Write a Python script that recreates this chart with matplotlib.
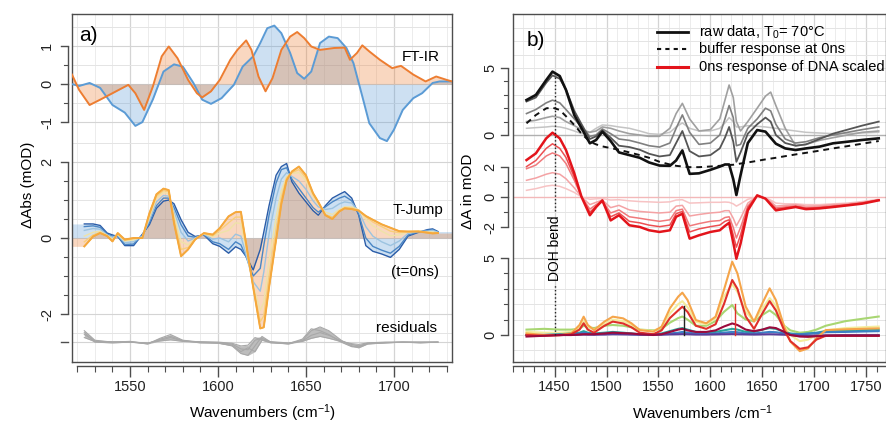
import numpy as np
import matplotlib
matplotlib.use('Agg')
import matplotlib.pyplot as plt

plt.rcParams['font.family'] = ['Liberation Sans', 'DejaVu Sans']
plt.rcParams['mathtext.fontset'] = 'custom'
plt.rcParams['mathtext.rm'] = 'Liberation Sans'
plt.rcParams['mathtext.it'] = 'Liberation Sans:italic'

# ---------------- Panel a data ----------------
FTIR_WN_B = [1517, 1521, 1527, 1533, 1540, 1547, 1553, 1557, 1563, 1569,
             1575, 1580, 1586, 1591, 1596, 1602, 1609, 1614, 1620, 1624,
             1628, 1632, 1636, 1641, 1645, 1649, 1653, 1658, 1663, 1668,
             1673, 1677, 1682, 1686, 1692, 1696, 1700, 1705, 1711, 1716,
             1722, 1726, 1733]
FTIR_BLUE = [0.0, -0.05, 0.03, -0.1, -0.55, -0.75, -1.1, -1.0, -0.4, 0.33,
             0.52, 0.46, 0.03, -0.41, -0.52, -0.37, -0.02, 0.46, 0.73, 1.08,
             1.47, 1.54, 1.34, 0.82, 0.29, 0.14, 0.33, 1.08, 1.25, 1.21,
             0.95, 0.55, -0.32, -1.03, -1.42, -1.5, -1.2, -0.68, -0.37, -0.24,
             0.03, 0.07, 0.07]
FTIR_WN_O = [1517, 1521, 1527, 1533, 1540, 1549, 1553, 1558, 1563, 1568,
             1572, 1577, 1583, 1588, 1591, 1596, 1601, 1607, 1611, 1616,
             1619, 1623, 1627, 1631, 1636, 1641, 1645, 1649, 1653, 1658,
             1666, 1672, 1675, 1679, 1682, 1686, 1692, 1699, 1704, 1711,
             1718, 1724, 1730, 1733]
FTIR_ORANGE = [0.25, -0.15, -0.55, -0.41, -0.24, -0.02, -0.24, -0.68, -0.06, 0.73,
               0.99, 0.68, 0.11, -0.24, -0.35, -0.19, 0.11, 0.64, 0.9, 1.15,
               0.9, 0.2, -0.19, 0.16, 0.9, 1.25, 1.37, 1.21, 0.99, 0.9,
               0.95, 0.96, 0.64, 0.82, 1.02, 0.86, 0.64, 0.42, 0.48, 0.25,
               0.07, 0.2, 0.11, 0.07]

TJ_WN = [1524, 1529, 1533, 1537, 1540, 1543, 1547, 1552, 1557, 1561,
         1565, 1569, 1572, 1575, 1579, 1583, 1587, 1592, 1597, 1601,
         1606, 1610, 1613, 1616, 1620, 1624, 1626, 1629, 1633, 1636,
         1639, 1642, 1646, 1650, 1654, 1657, 1661, 1665, 1669, 1672,
         1676, 1680, 1684, 1688, 1693, 1698, 1703, 1708, 1714, 1719,
         1722, 1725]
TJ1 = [0.37, 0.37, 0.33, 0.13, 0.08, 0.04, -0.2, -0.2, 0.1, 0.35,
       0.78, 0.97, 1.0, 0.9, 0.48, 0.15, 0.04, 0.08, -0.15, -0.22,
       -0.4, -0.23, -0.3, -0.49, -0.84, -0.3, 0.15, 0.85, 1.65, 1.88,
       1.96, 1.48, 1.18, 0.95, 0.72, 0.6, 0.85, 1.05, 1.15, 1.22,
       1.05, 0.6, -0.2, -0.35, -0.42, -0.51, -0.3, 0.05, 0.15, 0.22,
       0.24, 0.17]
TJ2 = [0.3, 0.32, 0.28, 0.1, 0.05, 0.05, -0.17, -0.16, 0.08, 0.4,
       0.85, 1.05, 1.05, 0.8, 0.35, 0.05, 0.02, 0.09, -0.1, -0.15,
       -0.3, -0.1, -0.18, -0.5, -1.0, -0.8, -0.2, 0.6, 1.45, 1.8,
       1.85, 1.55, 1.3, 1.05, 0.8, 0.68, 0.82, 0.95, 1.05, 1.1,
       0.98, 0.62, 0.0, -0.22, -0.32, -0.4, -0.22, 0.08, 0.16, 0.2,
       0.22, 0.16]
TJ3 = [0.2, 0.25, 0.23, 0.08, 0.02, 0.07, -0.12, -0.1, 0.05, 0.48,
       0.95, 1.12, 1.1, 0.7, 0.15, -0.08, 0.0, 0.1, -0.03, 0.0,
       -0.1, 0.1, 0.05, -0.45, -1.15, -1.4, -0.9, 0.1, 1.05, 1.55,
       1.72, 1.62, 1.5, 1.28, 0.98, 0.82, 0.75, 0.78, 0.9, 0.95,
       0.92, 0.7, 0.3, 0.05, -0.1, -0.2, -0.08, 0.12, 0.17, 0.18,
       0.2, 0.15]
TJ4 = [0.05, 0.15, 0.18, 0.07, -0.03, 0.09, -0.08, -0.05, 0.03, 0.55,
       1.05, 1.2, 1.17, 0.6, -0.1, -0.18, -0.02, 0.11, 0.03, 0.13,
       0.2, 0.4, 0.38, -0.3, -1.25, -1.9, -1.7, -0.6, 0.55, 1.25,
       1.62, 1.7, 1.72, 1.5, 1.1, 0.9, 0.68, 0.62, 0.75, 0.82,
       0.82, 0.74, 0.5, 0.32, 0.18, 0.06, 0.08, 0.16, 0.18, 0.16,
       0.16, 0.14]
TJ5 = [-0.1, 0.08, 0.15, 0.06, -0.06, 0.11, -0.06, -0.02, 0.01, 0.6,
       1.1, 1.25, 1.22, 0.5, -0.3, -0.25, -0.03, 0.12, 0.06, 0.2,
       0.4, 0.55, 0.55, -0.2, -1.28, -2.2, -2.05, -1.0, 0.25, 1.08,
       1.58, 1.72, 1.8, 1.58, 1.15, 0.92, 0.62, 0.55, 0.72, 0.8,
       0.79, 0.73, 0.56, 0.42, 0.3, 0.18, 0.14, 0.17, 0.18, 0.15,
       0.14, 0.13]
TJ6 = [-0.22, 0.04, 0.13, 0.05, -0.09, 0.13, -0.04, 0.0, 0.0, 0.65,
       1.15, 1.3, 1.26, 0.39, -0.48, -0.3, -0.04, 0.13, 0.09, 0.26,
       0.57, 0.68, 0.69, -0.15, -1.3, -2.38, -2.35, -1.3, -0.05, 0.9,
       1.52, 1.75, 1.88, 1.65, 1.18, 0.95, 0.6, 0.5, 0.7, 0.78,
       0.76, 0.72, 0.58, 0.48, 0.36, 0.27, 0.18, 0.17, 0.17, 0.14,
       0.12, 0.13]
TJ_SERIES = [TJ1, TJ2, TJ3, TJ4, TJ5, TJ6]
TJ_COLORS = ['#2a5ca8', '#4a86c5', '#9cc3e0', '#efe3a8', '#f9cf7a', '#f5a83c']

RES_WN = [1524, 1530, 1540, 1550, 1560, 1567, 1573, 1580, 1590, 1600,
          1608, 1613, 1617, 1621, 1625, 1630, 1640, 1648, 1653, 1658,
          1663, 1670, 1676, 1680, 1685, 1695, 1705, 1715, 1725]
RES1 = [0.3, 0.05, 0.0, 0.02, -0.05, 0.1, 0.2, 0.05, 0.0, -0.02,
        -0.1, -0.3, -0.35, -0.1, 0.15, 0.0, -0.05, 0.05, 0.3, 0.4,
        0.3, 0.05, -0.1, -0.15, -0.05, -0.02, 0.0, -0.01, 0.0]
RES2 = [0.2, 0.03, 0.0, 0.01, -0.03, 0.05, 0.12, 0.03, 0.0, -0.01,
        -0.05, -0.18, -0.2, 0.05, 0.1, 0.0, -0.03, 0.03, 0.18, 0.25,
        0.18, 0.03, -0.06, -0.1, -0.03, -0.01, 0.0, 0.0, 0.0]
RES3 = [0.25, 0.0, -0.02, 0.0, -0.04, 0.08, 0.15, 0.04, -0.02, -0.03,
        -0.08, -0.25, -0.15, -0.25, 0.05, -0.02, -0.04, 0.08, 0.35, 0.3,
        0.2, 0.0, -0.12, -0.12, -0.04, -0.02, 0.0, -0.02, 0.0]
RES4 = [0.12, 0.02, 0.01, 0.0, -0.02, 0.03, 0.06, 0.02, 0.01, 0.0,
        -0.03, -0.1, -0.08, 0.12, 0.06, 0.01, -0.02, 0.02, 0.1, 0.15,
        0.1, 0.02, -0.04, -0.06, -0.02, 0.0, 0.0, 0.0, 0.0]

# ---------------- Panel b data ----------------
WB = [1423, 1432, 1442, 1448, 1455, 1461, 1469, 1476, 1484, 1490,
      1496, 1504, 1512, 1522, 1532, 1541, 1551, 1561, 1567, 1573,
      1580, 1589, 1600, 1609, 1614, 1618, 1622, 1625, 1629, 1636,
      1645, 1653, 1658, 1663, 1672, 1682, 1692, 1705, 1718, 1732,
      1746, 1762]
RAW_BLACK = [2.61, 2.99, 4.1, 4.73, 4.4, 3.36, 1.49, 0.5, -0.62, -0.37,
             0.25, -0.45, -1.3, -1.5, -1.7, -2.05, -2.28, -2.3, -1.9, -1.15,
             -2.9, -2.86, -2.6, -2.36, -2.2, -2.2, -3.3, -4.48, -3.0, -0.6,
             0.37, 0.25, -0.2, -0.65, -1.0, -1.12, -1.0, -0.87, -0.62, -0.5,
             -0.37, -0.25]
BUFFER = [0.87, 1.49, 1.99, 2.04, 1.87, 1.4, 0.75, 0.1, -0.5, -0.7,
          -0.85, -0.98, -1.1, -1.3, -1.5, -1.7, -2.0, -2.2, -2.3, -2.35,
          -2.4, -2.4, -2.35, -2.3, -2.27, -2.24, -2.22, -2.18, -2.13, -2.05,
          -1.93, -1.82, -1.76, -1.7, -1.58, -1.45, -1.33, -1.17, -1.0, -0.83,
          -0.65, -0.45]
RAW_G1 = [2.5, 2.8, 3.9, 4.45, 4.2, 3.4, 1.8, 0.8, -0.3, -0.1,
          0.35, -0.2, -0.8, -0.9, -1.1, -1.4, -1.6, -1.5, -0.6, 0.3,
          -1.2, -1.6, -1.5, -1.0, -0.2, 0.6, -0.5, -2.0, -1.3, 0.1,
          0.8, 1.3, 1.0, 0.0, -0.6, -0.8, -0.7, -0.3, 0.1, 0.4,
          0.7, 1.0]
RAW_G2 = [1.6, 1.9, 2.4, 2.6, 2.4, 1.9, 1.2, 0.6, -0.1, 0.0,
          0.45, 0.1, -0.3, -0.4, -0.6, -0.8, -0.9, -0.6, 0.5, 1.5,
          0.2, -0.7, -0.6, 0.0, 1.2, 2.2, 1.3, -0.8, -0.7, 0.5,
          1.2, 2.0, 1.8, 0.8, -0.3, -0.6, -0.5, -0.2, 0.0, 0.2,
          0.4, 0.6]
RAW_G3 = [1.0, 1.1, 1.3, 1.4, 1.3, 1.0, 0.7, 0.4, 0.2, 0.3,
          0.6, 0.5, 0.3, 0.1, 0.0, -0.1, -0.1, 0.5, 1.6, 2.36,
          1.2, 0.3, 0.4, 1.2, 2.6, 3.73, 2.8, 1.0, 0.3, 1.0,
          2.0, 2.9, 3.2, 2.2, 0.5, -0.8, -0.7, -0.4, -0.2, 0.0,
          0.2, 0.3]
RAW_G4 = [0.5, 0.55, 0.6, 0.65, 0.6, 0.5, 0.3, 0.1, 0.2, 0.5,
          0.75, 0.7, 0.6, 0.5, 0.3, 0.1, 0.05, 0.2, 0.6, 0.9,
          0.5, 0.3, 0.3, 0.5, 0.9, 1.3, 1.0, 0.6, 0.6, 0.7,
          0.65, 0.6, 0.55, 0.5, 0.4, 0.3, 0.2, 0.15, 0.1, 0.1,
          0.15, 0.2]

DNA_A = [2.43, 2.87, 3.86, 4.23, 3.86, 3.09, 1.56, 0.0, -1.2, -0.66,
         -0.22, -1.54, -1.2, -1.86, -1.97, -2.19, -2.3, -2.19, -1.3, -1.1,
         -2.74, -2.52, -2.3, -2.19, -1.9, -1.7, -3.0, -4.06, -3.07, -0.88,
         0.11, -0.11, -0.5, -0.88, -0.77, -0.66, -0.8, -0.75, -0.66, -0.55,
         -0.44, -0.22]
DNA_B = [2.0, 2.4, 3.2, 3.5, 3.2, 2.6, 1.3, 0.0, -1.0, -0.6,
         -0.3, -1.3, -1.05, -1.6, -1.7, -1.85, -1.95, -1.85, -1.1, -0.95,
         -2.3, -2.1, -1.95, -1.85, -1.6, -1.5, -2.5, -3.3, -2.5, -0.7,
         0.1, -0.1, -0.45, -0.8, -0.72, -0.62, -0.75, -0.7, -0.62, -0.52,
         -0.4, -0.2]
DNA_C = [1.86, 2.1, 2.7, 2.9, 2.7, 2.2, 1.1, 0.0, -0.8, -0.5,
         -0.25, -1.05, -0.85, -1.3, -1.4, -1.5, -1.6, -1.5, -0.9, -0.8,
         -1.9, -1.75, -1.6, -1.55, -1.35, -1.3, -2.0, -2.7, -2.0, -0.6,
         0.08, -0.1, -0.4, -0.72, -0.65, -0.58, -0.7, -0.66, -0.58, -0.5,
         -0.38, -0.2]
DNA_D = [1.1, 1.25, 1.5, 1.6, 1.5, 1.2, 0.6, 0.0, -0.5, -0.35,
         -0.2, -0.7, -0.55, -0.85, -0.95, -1.0, -1.05, -1.0, -0.6, -0.55,
         -1.25, -1.15, -1.05, -1.0, -0.9, -0.9, -1.4, -1.9, -1.4, -0.4,
         0.05, -0.08, -0.3, -0.6, -0.55, -0.5, -0.6, -0.58, -0.5, -0.45,
         -0.35, -0.18]
DNA_E = [0.44, 0.55, 0.72, 0.77, 0.7, 0.55, 0.3, 0.0, -0.15, -0.12,
         -0.1, -0.2, -0.18, -0.25, -0.3, -0.32, -0.35, -0.32, -0.2, -0.18,
         -0.4, -0.38, -0.35, -0.35, -0.33, -0.35, -0.45, -0.6, -0.45, -0.15,
         0.0, -0.05, -0.2, -0.4, -0.45, -0.45, -0.5, -0.5, -0.45, -0.4,
         -0.3, -0.15]
DNA_SERIES = [DNA_E, DNA_D, DNA_C, DNA_B, DNA_A]
DNA_COLORS = ['#f7c3c4', '#f4a2a4', '#f07a7c', '#ec4f52', '#e3141b']

WC = [1423, 1440, 1455, 1466, 1474, 1478, 1482, 1488, 1498, 1506,
      1516, 1524, 1532, 1545, 1553, 1561, 1569, 1573, 1578, 1586,
      1596, 1605, 1613, 1621, 1626, 1634, 1642, 1650, 1657, 1663,
      1671, 1677, 1686, 1694, 1702, 1711, 1730, 1762]
C_ORANGE = [0.1, 0.0, 0.0, 0.1, 0.65, 1.19, 0.65, 0.32, 0.87, 1.19,
            1.08, 0.76, 0.32, 0.22, 0.54, 1.73, 2.49, 2.75, 2.27, 0.97,
            0.76, 1.19, 2.92, 4.76, 4.0, 1.84, 0.87, 2.06, 3.03, 2.27,
            0.54, -0.43, -1.05, -0.87, -0.22, 0.32, 0.37, 0.43]
C_RED = [0.0, -0.05, -0.02, 0.05, 0.35, 0.76, 0.35, 0.15, 0.6, 0.87,
         0.75, 0.5, 0.15, 0.05, 0.3, 1.1, 1.6, 1.84, 1.5, 0.6,
         0.4, 0.7, 2.0, 3.57, 3.0, 1.2, 0.4, 1.4, 2.2, 1.6,
         0.3, -0.4, -0.9, -0.8, -0.3, -0.05, -0.05, -0.05]
C_YELLOW = [0.2, 0.15, 0.15, 0.2, 0.5, 0.9, 0.55, 0.35, 0.7, 1.0,
            0.9, 0.65, 0.35, 0.25, 0.5, 1.4, 2.0, 2.2, 1.8, 0.85,
            0.7, 1.1, 2.5, 3.3, 2.8, 1.5, 0.9, 1.7, 2.4, 1.9,
            0.6, 0.0, -0.4, -0.3, 0.0, 0.3, 0.45, 0.55]
C_GREEN = [0.35, 0.4, 0.35, 0.35, 0.4, 0.6, 0.5, 0.45, 0.6, 0.65,
           0.6, 0.5, 0.35, 0.3, 0.4, 0.8, 1.1, 1.2, 1.0, 0.6,
           0.6, 0.9, 1.5, 1.95, 1.4, 1.0, 0.9, 1.3, 1.6, 1.3,
           0.6, 0.3, 0.15, 0.2, 0.35, 0.6, 0.9, 1.2]
C_TEAL = [0.0, 0.0, 0.05, 0.1, 0.15, 0.25, 0.15, 0.1, 0.15, 0.2,
          0.15, 0.1, 0.05, 0.05, 0.1, 0.25, 0.4, 0.45, 0.35, 0.2,
          0.15, 0.2, 0.3, 0.4, 0.35, 0.2, 0.2, 0.35, 0.45, 0.4,
          0.2, 0.1, 0.05, 0.1, 0.15, 0.25, 0.3, 0.35]
C_BLUE = [0.0, 0.0, 0.02, 0.05, 0.1, 0.15, 0.1, 0.05, 0.08, 0.1,
          0.08, 0.05, 0.03, 0.03, 0.05, 0.1, 0.15, 0.2, 0.15, 0.1,
          0.08, 0.1, 0.15, 0.2, 0.18, 0.1, 0.1, 0.15, 0.2, 0.18,
          0.1, 0.05, 0.05, 0.08, 0.12, 0.18, 0.2, 0.25]
C_PURPLE = [0.0, 0.0, 0.0, 0.0, 0.02, 0.03, 0.02, 0.02, 0.03, 0.05,
            0.04, 0.03, 0.02, 0.02, 0.02, 0.04, 0.05, 0.06, 0.05, 0.03,
            0.03, 0.04, 0.05, 0.06, 0.05, 0.04, 0.03, 0.04, 0.05, 0.04,
            0.02, 0.0, -0.05, -0.05, -0.03, -0.02, 0.0, 0.0]
C_MAROON = [-0.1, -0.05, 0.0, 0.0, 0.03, 0.05, 0.05, 0.05, 0.1, 0.15,
            0.12, 0.1, 0.05, 0.0, 0.05, 0.2, 0.35, 0.4, 0.3, 0.2,
            0.2, 0.3, 0.55, 0.75, 0.65, 0.35, 0.25, 0.35, 0.5, 0.45,
            0.2, 0.0, -0.1, -0.12, -0.08, -0.05, -0.05, -0.05]
COMP_SERIES = [C_GREEN, C_YELLOW, C_TEAL, C_BLUE, C_PURPLE, C_ORANGE, C_RED, C_MAROON]
COMP_COLORS = ['#a8d672', '#f4ec9c', '#2aa39a', '#3b7fc4', '#5a3d9a', '#f5a54a', '#e0302a', '#9b0a3c']
STICK_WN = [1575, 1624]
STICK_H = [1.9, 2.0]
STICK_COLORS = ['#222222', '#e0302a']

# ---------------- layout ----------------
W, H = 887, 423
fig = plt.figure(figsize=(W / 100, H / 100), dpi=100)
AX_COL = '#4d4d4d'
BOX_BOTTOM = 362


def add_ax(l, t, r, b):
    return fig.add_axes([l / W, 1 - b / H, (r - l) / W, (b - t) / H])


axa = add_ax(72, 14, 452, BOX_BOTTOM)
axb = add_ax(513, 14, 886, BOX_BOTTOM)

for ax in (axa, axb):
    for s in ax.spines.values():
        s.set_color(AX_COL)
        s.set_linewidth(1.0)
    ax.spines['bottom'].set_position(('outward', 3))
    ax.plot([0, 1], [0, 0], transform=ax.transAxes, color=AX_COL, lw=1.0,
            clip_on=False, zorder=6)
    ax.set_yticks([])
    ax.tick_params(axis='x', which='major', direction='out', length=8, width=1,
                   color=AX_COL, labelsize=10.5, pad=2, labelcolor='#222222')
    ax.tick_params(axis='x', which='minor', direction='out', length=4, width=0.8,
                   color=AX_COL)


def ygroup(ax, width_px, off_px, spine_lo, spine_hi, majors, labels, minors,
           lab_off_px, maj_len=7, min_len=4):
    tr = ax.get_yaxis_transform()
    x0 = -off_px / width_px
    ax.plot([x0, x0], [spine_lo, spine_hi], transform=tr, color=AX_COL, lw=1.0,
            clip_on=False, solid_capstyle='butt')
    for p in majors:
        ax.plot([x0, x0 - maj_len / width_px], [p, p], transform=tr, color=AX_COL,
                lw=1.0, clip_on=False)
    for p in minors:
        ax.plot([x0, x0 - min_len / width_px], [p, p], transform=tr, color=AX_COL,
                lw=0.8, clip_on=False)
    for p, lab in zip(majors, labels):
        ax.text(-lab_off_px / width_px, p, lab, transform=tr, rotation=90,
                ha='center', va='center', fontsize=10.5, color='#222222')


# ================= Panel a =================
FT_OFF = 4.05
RES_OFF = -2.74
axa.set_xlim(1517, 1733)
axa.set_ylim((238 - BOX_BOTTOM) / 38.0, (238 - 14) / 38.0)
axa.set_xticks([1550, 1600, 1650, 1700])
axa.set_xticks(np.arange(1520, 1731, 10), minor=True)
axa.spines['bottom'].set_bounds(1520, 1730)

for x in range(1520, 1731, 10):
    major = x % 50 == 0
    axa.axvline(x, color='#d4d4d4' if major else '#ececec', lw=0.9 if major else 0.7, zorder=0)
hl_a = [FT_OFF + v for v in (-1, -0.5, 0, 0.5, 1, 1.5)] + [v for v in (-2.5, -2, -1.5, -1, -0.5, 0, 0.5, 1, 1.5, 2, 2.5)] + [RES_OFF]
for y in hl_a:
    axa.axhline(y, color='#e4e4e4', lw=0.7, zorder=0)
for y in (FT_OFF, FT_OFF + 1, FT_OFF - 1, 0, 2, -2, RES_OFF):
    axa.axhline(y, color='#d4d4d4', lw=0.8, zorder=0)

# FT-IR
fb = np.array(FTIR_BLUE) + FT_OFF
fo = np.array(FTIR_ORANGE) + FT_OFF
axa.fill_between(FTIR_WN_B, FT_OFF, fb, color='#5b9bd5', alpha=0.3, lw=0, zorder=1)
axa.fill_between(FTIR_WN_O, FT_OFF, fo, color='#ed7d31', alpha=0.3, lw=0, zorder=1)
axa.plot(FTIR_WN_B, fb, color='#5b9bd5', lw=1.4, zorder=3)
axa.plot(FTIR_WN_O, fo, color='#ed7d31', lw=1.4, zorder=3)

# T-Jump
wn_ext = [1517] + TJ_WN + [1733]
b_ext = [TJ1[0]] + TJ1 + [TJ1[-1]]
o_ext = [TJ6[0]] + TJ6 + [TJ6[-1]]
axa.fill_between(wn_ext, 0, b_ext, color='#5b9bd5', alpha=0.3, lw=0, zorder=1)
axa.fill_between(wn_ext, 0, o_ext, color='#ed7d31', alpha=0.3, lw=0, zorder=1)
for s, c in zip(TJ_SERIES, TJ_COLORS):
    axa.plot(TJ_WN, s, color=c, lw=1.0, zorder=3)
axa.plot(TJ_WN, TJ6, color=TJ_COLORS[-1], lw=1.4, zorder=4)

# residuals
res = np.array([RES1, RES2, RES3, RES4]) + RES_OFF
axa.fill_between(RES_WN, res.min(axis=0), res.max(axis=0), color='#bdbdbd', lw=0, zorder=2)
for r in res:
    axa.plot(RES_WN, r, color='#a8a8a8', lw=0.8, zorder=3)

ygroup(axa, 380, 4, FT_OFF - 1, FT_OFF + 1, [FT_OFF - 1, FT_OFF, FT_OFF + 1],
       ['-1', '0', '1'], [FT_OFF - 0.5, FT_OFF + 0.5], 25)
ygroup(axa, 380, 4, -2, 2, [-2, 0, 2], ['-2', '0', '2'],
       [-1.5, -1, -0.5, 0.5, 1, 1.5], 25)
ygroup(axa, 380, 4, RES_OFF, RES_OFF, [RES_OFF], [''], [], 25)

axa.text(1521, 5.34, 'a)', fontsize=15, va='center', ha='left')
axa.text(1715, FT_OFF + 0.71, 'FT-IR', fontsize=11, ha='center', va='center')
axa.text(1713.5, 0.74, 'T-Jump', fontsize=11, ha='center', va='center')
axa.text(1712, -0.89, '(t=0ns)', fontsize=11, ha='center', va='center')
axa.text(1707, -2.37, 'residuals', fontsize=11, ha='center', va='center')
fig.text(262 / W, 1 - 413 / H, 'Wavenumbers (cm$^{-1}$)', fontsize=11, ha='center', va='center')
fig.text(28 / W, 1 - 185 / H, 'ΔAbs (mOD)', fontsize=11, ha='center', va='center', rotation=90)

# ================= Panel b =================
TOP0, TOPS = 232.0, 13.4
MID0, MIDS = 170.0, 15.2
BOT0, BOTS = 32.0, 15.4
axb.set_xlim(1410, 1769)
axb.set_ylim(367 - BOX_BOTTOM, 353)
axb.set_xticks([1450, 1500, 1550, 1600, 1650, 1700, 1750])
axb.set_xticks(np.arange(1410, 1770, 10), minor=True)
axb.spines['bottom'].set_bounds(1410, 1769)

for x in range(1410, 1770, 10):
    major = x % 50 == 0
    axb.axvline(x, color='#d4d4d4' if major else '#ececec', lw=0.9 if major else 0.7, zorder=0)
for k in range(-1, 9):
    axb.axhline(TOP0 + TOPS * k, color='#e4e4e4', lw=0.7, zorder=0)
for k in range(-2, 3):
    axb.axhline(MID0 + MIDS * k, color='#e4e4e4', lw=0.7, zorder=0)
for k in range(-2, 6):
    axb.axhline(BOT0 + BOTS * k, color='#e4e4e4', lw=0.7, zorder=0)
axb.axhline(BOT0 + BOTS * 5, color='#d4d4d4', lw=0.8, zorder=0)

wb = np.array(WB)
# top: raw data
axb.axhline(TOP0, color='#b0b0b0', lw=1.0, zorder=1)
for s, c, lw in ((RAW_G4, '#c4c4c4', 1.1), (RAW_G3, '#a0a0a0', 1.2),
                 (RAW_G2, '#808080', 1.2), (RAW_G1, '#555555', 1.3)):
    axb.plot(wb, TOP0 + TOPS * np.array(s), color=c, lw=lw, zorder=2)
axb.plot(wb, TOP0 + TOPS * np.array(BUFFER), color='#111111', lw=1.4, ls=(0, (3, 2.5)), zorder=3)
axb.plot(wb, TOP0 + TOPS * np.array(RAW_BLACK), color='#111111', lw=1.9, zorder=3)

# middle: DNA response
axb.axhline(MID0, color='#f3b8b9', lw=1.0, zorder=1)
for s, c in zip(DNA_SERIES, DNA_COLORS):
    axb.plot(wb, MID0 + MIDS * np.array(s), color=c, lw=1.8 if c == DNA_COLORS[-1] else 1.1, zorder=2)

# bottom: components
wc = np.array(WC)
for s, c in zip(COMP_SERIES, COMP_COLORS):
    axb.plot(wc, BOT0 + BOTS * np.array(s), color=c, lw=1.5, zorder=2)
for x, h, c in zip(STICK_WN, STICK_H, STICK_COLORS):
    axb.plot([x, x], [BOT0, BOT0 + BOTS * h], color=c, lw=1.0, zorder=3)

# DOH bend marker
axb.plot([1450, 1450], [BOT0, 82], color='#222222', lw=1.0, ls=':', zorder=4)
axb.plot([1450, 1450], [156, TOP0 + TOPS * 4.73], color='#222222', lw=1.0, ls=':', zorder=4)
axb.text(1450, 119, 'DOH bend', rotation=90, ha='center', va='center', fontsize=10)

ygroup(axb, 373, 5, TOP0, TOP0 + 5 * TOPS, [TOP0, TOP0 + 5 * TOPS], ['0', '5'],
       [TOP0 + k * TOPS for k in (1, 2, 3, 4)], 23)
ygroup(axb, 373, 5, MID0 - 2 * MIDS, MID0 + 2 * MIDS,
       [MID0 - 2 * MIDS, MID0, MID0 + 2 * MIDS], ['-2', '0', '2'],
       [MID0 - MIDS, MID0 + MIDS], 23)
ygroup(axb, 373, 5, BOT0, BOT0 + 5 * BOTS, [BOT0, BOT0 + 5 * BOTS], ['0', '5'],
       [BOT0 + k * BOTS for k in (1, 2, 3, 4)], 23)

axb.text(1423, 327, 'b)', fontsize=15, va='center', ha='left')
# legend
leg_items = [('raw data, T$_0$= 70°C', '#111111', '-', 2.0),
             ('buffer response at 0ns', '#111111', (0, (2, 2)), 1.5),
             ('0ns response of DNA scaled', '#e3141b', '-', 2.2)]
for i, (lab, c, ls, lw) in enumerate(leg_items):
    ypx = 367 - (32 + 17.5 * i)
    x1 = 1450 + (658 - 555) / 1.04
    x2 = 1450 + (689 - 555) / 1.04
    axb.plot([x1, x2], [ypx, ypx], color=c, ls=ls, lw=lw, zorder=5)
    axb.text(1450 + (700 - 555) / 1.04, ypx, lab, fontsize=10.5, va='center', ha='left', zorder=5)

fig.text(702 / W, 1 - 413 / H, 'Wavenumbers /cm$^{-1}$', fontsize=11, ha='center', va='center')
fig.text(468 / W, 1 - 191 / H, 'ΔA in mOD', fontsize=11, ha='center', va='center', rotation=90)

fig.savefig('out.png', dpi=100)
